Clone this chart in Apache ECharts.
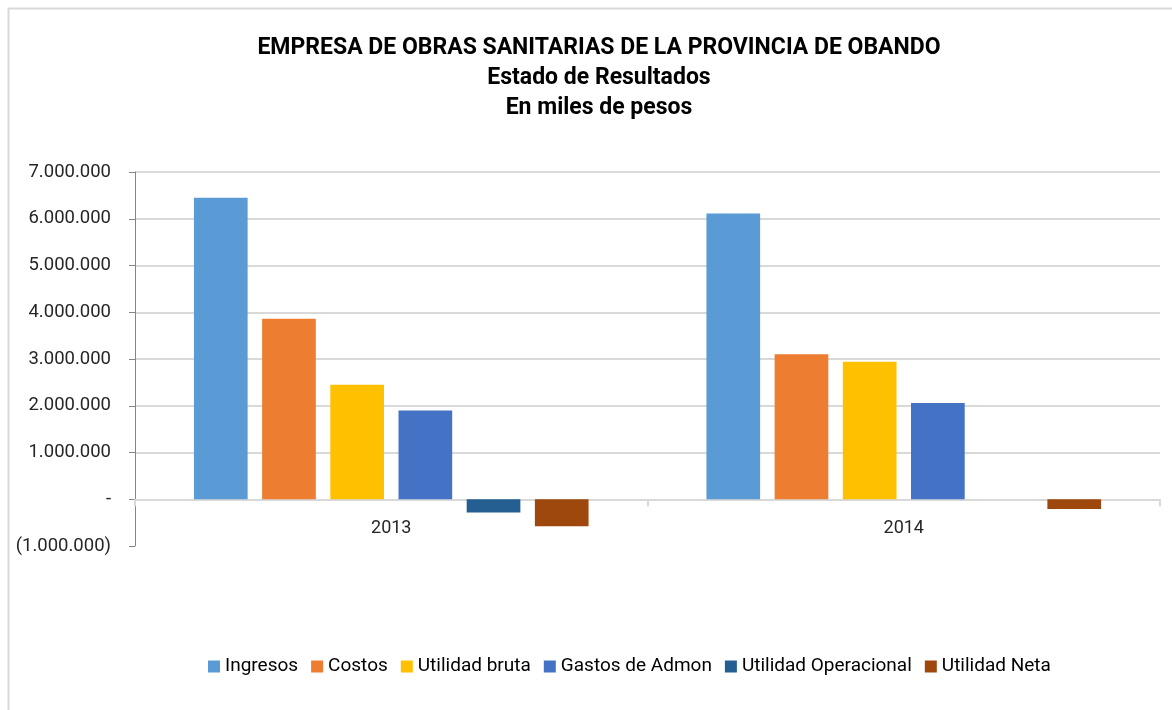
<!DOCTYPE html>
<html>
<head>
<meta charset="utf-8">
<script src="https://cdn.jsdelivr.net/npm/echarts@6/dist/echarts.min.js"></script>
<style>
html,body{margin:0;padding:0;background:#fff;}
#c{width:1172px;height:710px;}
</style>
</head>
<body>
<div id="c"></div>
<script>
const categories = ['2013', '2014'];
const seriesNames = ['Ingresos', 'Costos', 'Utilidad bruta', 'Gastos de Admon', 'Utilidad Operacional', 'Utilidad Neta'];
const ingresos = [6450000, 6110000];
const costos = [3860000, 3100000];
const utilidadBruta = [2450000, 2940000];
const gastosAdmon = [1900000, 2060000];
const utilidadOperacional = [-285000, 0];
const utilidadNeta = [-580000, -210000];
const yTicks = { min: -1000000, max: 7000000, interval: 1000000 };
const colors = ['#5b9bd5', '#ed7d31', '#ffc000', '#4472c4', '#255e91', '#9e480e'];
const values = [ingresos, costos, utilidadBruta, gastosAdmon, utilidadOperacional, utilidadNeta];

function fmt(v) {
  if (v === 0) return '-';
  const s = Math.abs(v).toString().replace(/\B(?=(\d{3})+(?!\d))/g, '.');
  return v < 0 ? '(' + s + ')' : s;
}

const chart = echarts.init(document.getElementById('c'));
chart.setOption({
  animation: false,
  backgroundColor: '#fff',
  title: {
    text: 'EMPRESA DE OBRAS SANITARIAS DE LA PROVINCIA DE OBANDO\nEstado de Resultados\nEn miles de pesos',
    left: 594,
    top: 28,
    textAlign: 'center',
    textStyle: { fontFamily: 'Roboto', fontWeight: 'bold', fontSize: 23, lineHeight: 30, color: '#000' }
  },
  legend: {
    bottom: 29,
    left: 203,
    itemWidth: 12, itemHeight: 12, itemGap: 13,
    icon: 'rect',
    textStyle: { fontFamily: 'Roboto', fontSize: 19, color: '#000' },
    data: seriesNames
  },
  graphic: [{
    type: 'rect', left: 6, top: 6,
    shape: { width: 1200, height: 760 },
    style: { fill: 'none', stroke: '#d9d9d9', lineWidth: 2 },
    silent: true, z: -1
  }],
  grid: { left: 135, right: 12, top: 172, bottom: 164, containLabel: false },
  xAxis: {
    type: 'category',
    data: categories,
    axisLine: { onZero: true, lineStyle: { color: '#d9d9d9', width: 2 } },
    axisTick: { show: true, length: 7, lineStyle: { color: '#d9d9d9', width: 2 } },
    axisLabel: { fontFamily: 'Roboto', fontSize: 18, color: '#262626', margin: -27 }
  },
  yAxis: {
    type: 'value',
    min: yTicks.min, max: yTicks.max, interval: yTicks.interval,
    axisLine: { show: true, lineStyle: { color: '#868686', width: 1 } },
    axisTick: { show: true, length: 6, lineStyle: { color: '#868686' } },
    splitLine: { showMinLine: false, lineStyle: { color: '#d9d9d9', width: 2 } },
    axisLabel: { fontFamily: 'Roboto', fontSize: 18.5, color: '#262626', margin: 24, formatter: fmt }
  },
  series: seriesNames.map((n, i) => ({
    name: n,
    type: 'bar',
    data: values[i],
    barGap: '27%',
    barCategoryGap: '23%',
    itemStyle: { color: colors[i] }
  }))
});
</script>
</body>
</html>
